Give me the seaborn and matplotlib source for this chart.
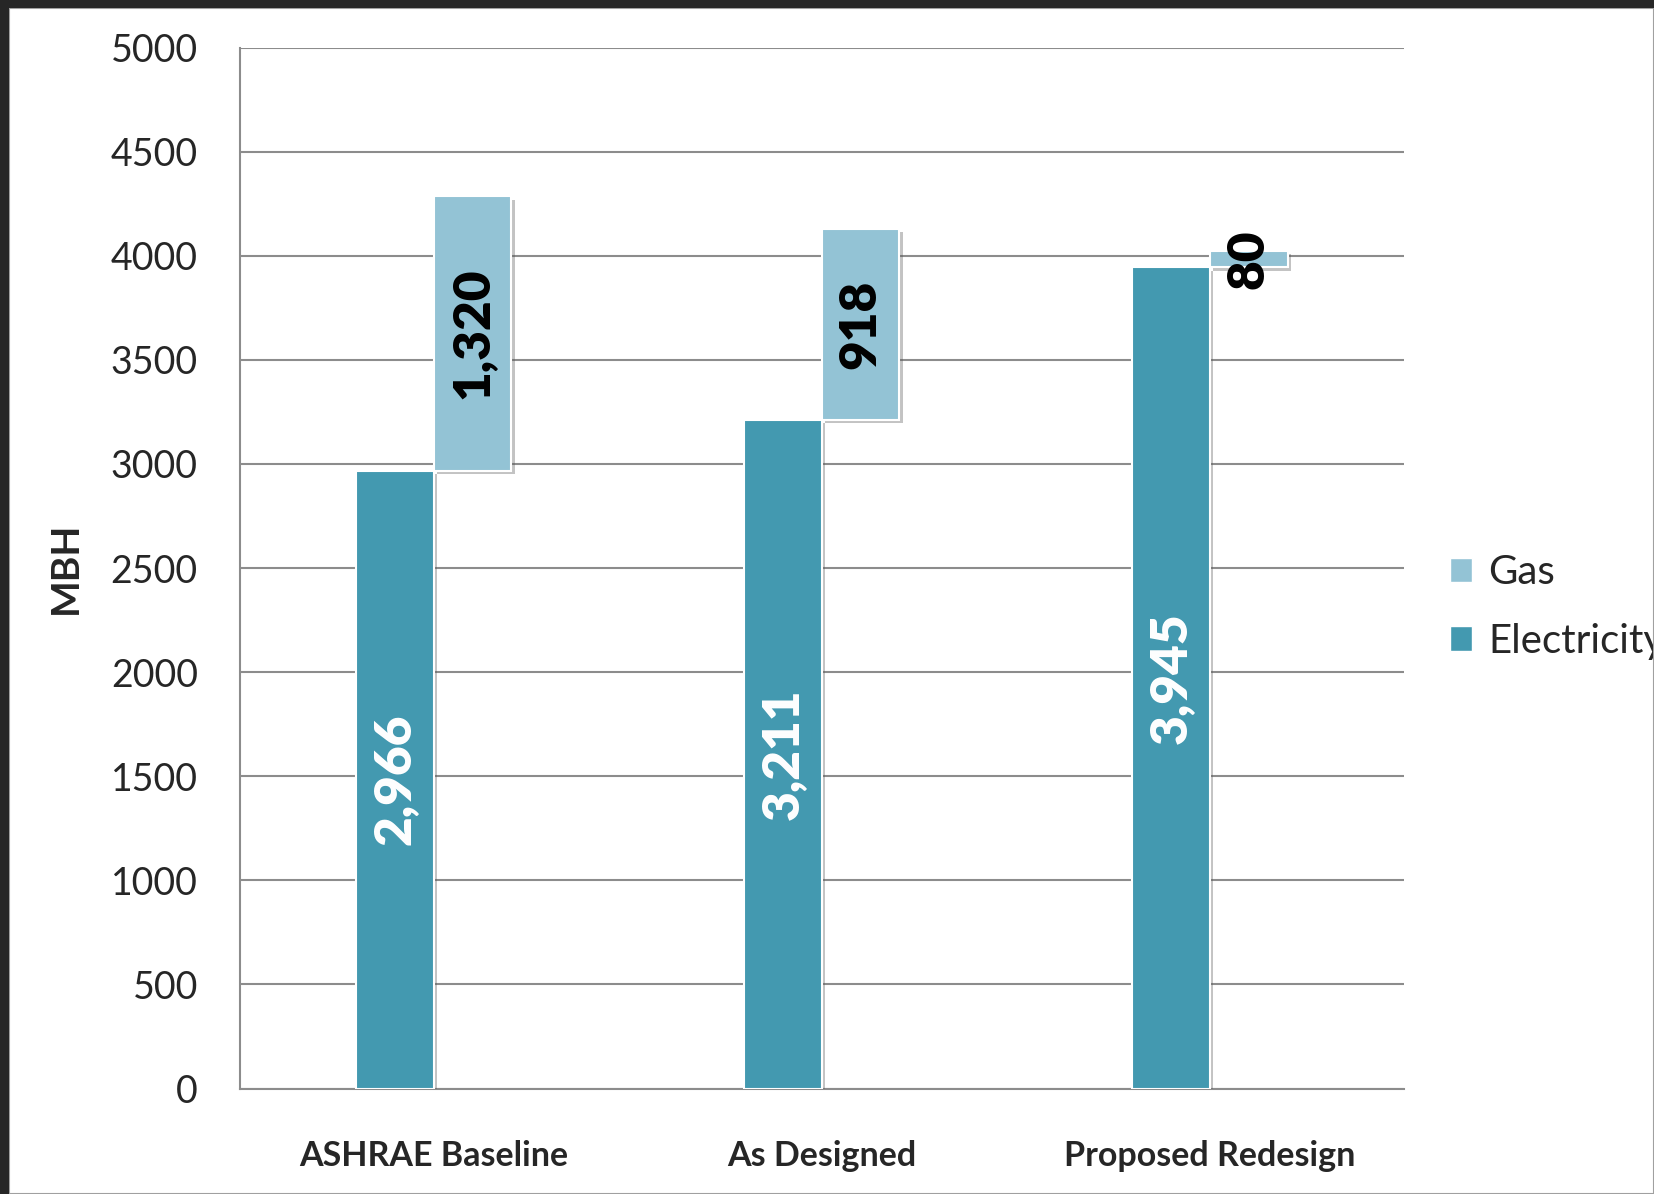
import matplotlib
matplotlib.use("Agg")
import matplotlib.pyplot as plt
import matplotlib.patheffects as pe
from matplotlib.patches import Rectangle, Patch
import seaborn as sns
import pandas as pd

# Peak heating capacity by fuel source (MBH)
scenarios = ["ASHRAE Baseline", "As Designed", "Proposed Redesign"]
electricity = [2966, 3211, 3945]
gas = [1320, 918, 80]
series_names = ["Electricity", "Gas"]
y_ticks = [0, 500, 1000, 1500, 2000, 2500, 3000, 3500, 4000, 4500, 5000]

elec_color = "#4399B0"
gas_color = "#93C3D5"
grid_color = "#8C8C8C"

df = pd.DataFrame({
    "scenario": scenarios * 2,
    "series": ["Electricity"] * len(scenarios) + ["Gas"] * len(scenarios),
    "value": electricity + gas,
})

sns.set_theme(style="white")
plt.rcParams["font.family"] = ["Lato", "DejaVu Sans"]

W, H = 1654, 1194
fig = plt.figure(figsize=(W / 100, H / 100), dpi=100)
ax = fig.add_axes([239.5 / W, 1 - 1088.6 / H, (1404 - 239.5) / W, (1088.6 - 47.5) / H])

sns.barplot(
    data=df, x="scenario", y="value", hue="series",
    hue_order=series_names, order=scenarios,
    palette={"Electricity": elec_color, "Gas": gas_color},
    width=0.4, dodge=True, gap=0, saturation=1,
    edgecolor="white", linewidth=1.5, legend=False, ax=ax, zorder=3,
)

# Gas bars float on top of the electricity bars
shadow = [pe.SimplePatchShadow(offset=(2.5, -2.5), alpha=0.35, shadow_rgbFace="#555555"), pe.Normal()]
n = len(scenarios)
elec_patches = ax.patches[:n]
gas_patches = ax.patches[n:2 * n]
for p in elec_patches:
    p.set_path_effects(shadow)
for p, base in zip(gas_patches, electricity):
    p.set_y(base)
    p.set_path_effects(shadow)

# Value labels, rotated inside each bar
for p, v in zip(elec_patches, electricity):
    ax.text(p.get_x() + p.get_width() / 2, v / 2, f"{v:,}", rotation=90,
            ha="center", va="center", color="white", fontsize=37,
            fontweight="heavy", zorder=5)
for p, base, v in zip(gas_patches, electricity, gas):
    ax.text(p.get_x() + p.get_width() / 2, base + v / 2, f"{v:,}", rotation=90,
            ha="center", va="center", color="black", fontsize=37,
            fontweight="heavy", zorder=5)

ax.set_xlim(-0.5, len(scenarios) - 0.5)
ax.set_ylim(0, 5000)
ax.set_yticks(y_ticks)
ax.set_yticklabels([str(t) for t in y_ticks], fontsize=27)
ax.tick_params(axis="y", length=0, pad=30)
ax.tick_params(axis="x", length=0, pad=37, labelsize=24.5)
for lbl in ax.get_xticklabels():
    lbl.set_fontweight("bold")
ax.set_xlabel("")
ax.set_ylabel("MBH", fontsize=28, fontweight="bold", labelpad=20)

ax.yaxis.grid(True, color=grid_color, linewidth=1.5, zorder=0)
ax.set_axisbelow(True)
for side in ["top", "right"]:
    ax.spines[side].set_visible(False)
for side in ["left", "bottom"]:
    ax.spines[side].set_color(grid_color)
    ax.spines[side].set_linewidth(1.5)

handles = [Patch(facecolor=gas_color, edgecolor="white", label="Gas"),
           Patch(facecolor=elec_color, edgecolor="white", label="Electricity")]
fig.legend(handles=handles, loc="center left", bbox_to_anchor=(1430 / W, 1 - 607 / H),
           frameon=False, fontsize=29, handlelength=0.55, handleheight=0.55,
           handletextpad=0.4, labelspacing=0.78, borderpad=0)

# Dark window frame along the top and left edges
fig.patches.append(Rectangle((0, 1 - 8 / H), 1, 8 / H, transform=fig.transFigure,
                             facecolor="#262626", edgecolor="none", zorder=10))
fig.patches.append(Rectangle((0, 0), 9 / W, 1, transform=fig.transFigure,
                             facecolor="#262626", edgecolor="none", zorder=10))
fig.patches.append(Rectangle((9 / W, 0), 1 - 9 / W, 1 - 8 / H, transform=fig.transFigure,
                             facecolor="none", edgecolor="#A0A0A0", linewidth=1.5, zorder=9))

fig.savefig("out.png", dpi=100)
